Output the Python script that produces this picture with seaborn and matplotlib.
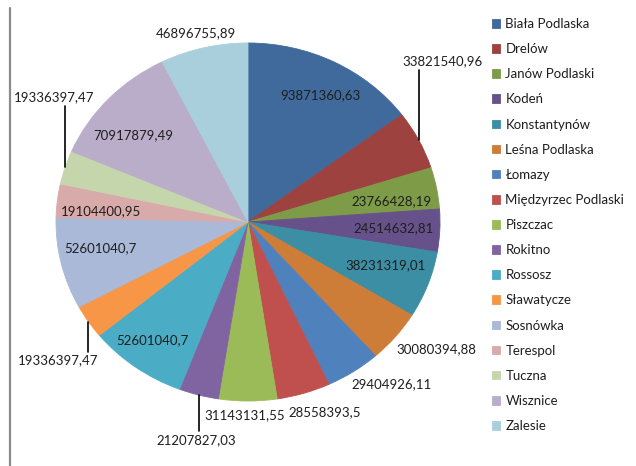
import matplotlib
matplotlib.use("Agg")
import matplotlib.pyplot as plt
import seaborn as sns
import numpy as np
from matplotlib.lines import Line2D

# Municipalities and their amounts
gminy = [
    "Biała Podlaska", "Drelów", "Janów Podlaski", "Kodeń", "Konstantynów",
    "Leśna Podlaska", "Łomazy", "Międzyrzec Podlaski", "Piszczac", "Rokitno",
    "Rossosz", "Sławatycze", "Sosnówka", "Terespol", "Tuczna", "Wisznice", "Zalesie",
]
kwoty = [
    93871360.63, 33821540.96, 23766428.19, 24514632.81, 38231319.01,
    30080394.88, 29404926.11, 28558393.50, 31143131.55, 21207827.03,
    52601040.70, 19336397.47, 52601040.70, 19104400.95, 19336397.47,
    70917879.49, 46896755.89,
]

kolory_hex = [
    "#3F6A9B", "#9E4240", "#7E9B48", "#67518A", "#3B8EA4", "#CD7D38",
    "#4F81BD", "#C0504D", "#9BBB59", "#8064A2", "#4BACC6", "#F79646",
    "#A9B9D7", "#D9AAAA", "#C6D6AC", "#B9ADC9", "#A9CFDC",
]

# Label layout: radius of the label centre (None = label on a leader line)
# and a small angular nudge (degrees, clockwise) from the slice's mid angle.
label_r = [0.80, None, 0.759, 0.761, 0.758, 1.209, 1.175, 1.134, 1.078, None,
           0.827, None, 0.784, 0.768, None, 0.771, 1.09]
nudge = [1.4, 0, 2.0, -0.2, -2.0, -4.0, -6.3, -3.9, 0.8, 0,
         1.4, 0, 2.7, -2.3, 0, -4.2, -1.1]
# Leader lines: index -> (vertical length in px, +down; text x offset in px)
leaders = {1: (-70, 24), 9: (36, -2), 11: (30, -30), 14: (-61, -11)}


def fmt(v):
    s = f"{v:.2f}".rstrip("0").rstrip(".")
    return s.replace(".", ",")


sns.set_theme(style="white")
plt.rcParams["font.family"] = ["Lato", "DejaVu Sans"]
kolory = sns.color_palette(kolory_hex)

W, H = 636, 466
fig = plt.figure(figsize=(W / 100, H / 100), dpi=100)
fig.patch.set_facecolor("white")
ax = fig.add_axes([0, 0, 1, 1])

cx, cy, rx, ry = 248, 222, 192, 179

wedges, _ = ax.pie(
    kwoty, colors=kolory, startangle=90, counterclock=False, radius=1,
    wedgeprops=dict(linewidth=0.6),
)
for w in wedges:
    w.set_edgecolor(w.get_facecolor())

ax.set_aspect("auto")
ax.set_xlim(-cx / rx, (W - cx) / rx)
ax.set_ylim(-(H - cy) / ry, cy / ry)
ax.axis("off")

txt_kw = dict(fontsize=9.5, color="#1e1e1e")
for i, w in enumerate(wedges):
    mid = np.deg2rad((w.theta1 + w.theta2) / 2)
    label = fmt(kwoty[i])
    if i in leaders:
        length, dx = leaders[i]
        ex, ey = np.cos(mid), np.sin(mid)
        ey_end = ey - length / ry
        ax.add_line(Line2D([ex, ex], [ey, ey_end], color="black", lw=1.2))
        ty = ey_end - np.sign(length) * 9 / ry
        ax.text(ex + dx / rx, ty, label, ha="center", va="center", **txt_kw)
    else:
        th = mid - np.deg2rad(nudge[i])
        r = label_r[i]
        ax.text(r * np.cos(th), r * np.sin(th), label,
                ha="center", va="center", **txt_kw)

leg = ax.legend(
    wedges, gminy, loc="upper left",
    bbox_to_anchor=(492 / W, 1 - 18 / H), bbox_transform=fig.transFigure,
    frameon=False, fontsize=9.5, labelspacing=0.995, handlelength=0.62,
    handleheight=0.62, handletextpad=0.4, borderpad=0, borderaxespad=0,
)
for t in leg.get_texts():
    t.set_color("#1e1e1e")

# Left frame edge of the chart area
fig.add_artist(Line2D([10 / W, 10 / W], [0, 1 - 8 / H], transform=fig.transFigure,
                      color="#8a8a8a", lw=1.6))

fig.savefig("out.png", dpi=100, facecolor="white")
